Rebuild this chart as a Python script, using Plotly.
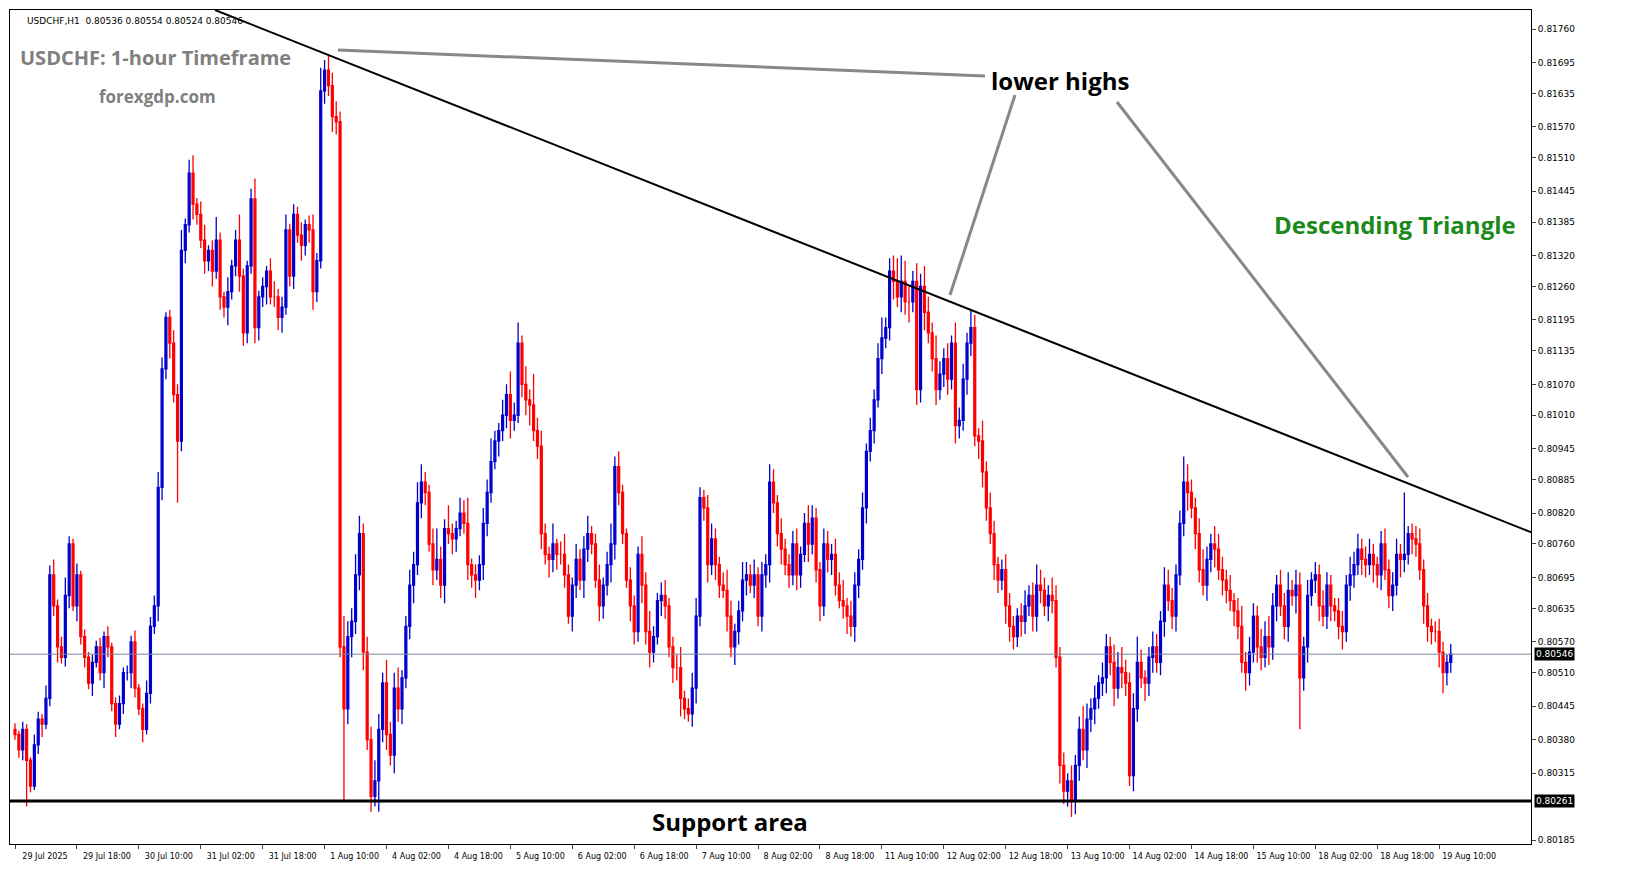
import pandas as pd
import plotly.graph_objects as go

# hourly closes, in 1e-5 CHF
closes = [
    80390, 80360, 80400, 80340, 80290, 80370, 80420, 80410, 80460, 80700, 80640, 80560, 80540, 80660, 80760, 80640, 80700, 80580, 80540, 80490,
    80530, 80560, 80510, 80580, 80560, 80450, 80410, 80450, 80510, 80510, 80570, 80480, 80440, 80400, 80470, 80600, 80640, 80870, 81100, 81200,
    81150, 81050, 80960, 81330, 81380, 81480, 81420, 81400, 81350, 81310, 81330, 81290, 81350, 81240, 81220, 81250, 81300, 81350, 81280, 81170,
    81300, 81430, 81180, 81240, 81260, 81290, 81240, 81240, 81200, 81220, 81370, 81280, 81400, 81360, 81340, 81380, 81370, 81250, 81310, 81640,
    81680, 81650, 81590, 81580, 80560, 80440, 80580, 80610, 80700, 80780, 80550, 80380, 80270, 80300, 80400, 80490, 80390, 80350, 80480, 80440,
    80500, 80600, 80680, 80720, 80840, 80880, 80860, 80760, 80710, 80730, 80680, 80790, 80780, 80770, 80790, 80820, 80800, 80720, 80700, 80690,
    80720, 80800, 80860, 80920, 80960, 80980, 81010, 81050, 81000, 81010, 81150, 81070, 81040, 81030, 80980, 80950, 80780, 80740, 80730, 80760,
    80740, 80740, 80700, 80620, 80680, 80730, 80690, 80750, 80780, 80760, 80690, 80640, 80680, 80720, 80760, 80910, 80860, 80780, 80690, 80640,
    80590, 80740, 80680, 80590, 80550, 80580, 80650, 80660, 80640, 80560, 80520, 80520, 80460, 80440, 80430, 80480, 80620, 80850, 80830, 80720,
    80770, 80720, 80680, 80670, 80620, 80560, 80590, 80630, 80690, 80700, 80680, 80700, 80620, 80700, 80720, 80880, 80840, 80780, 80750, 80720,
    80700, 80760, 80700, 80740, 80800, 80760, 80810, 80710, 80640, 80760, 80730, 80740, 80680, 80650, 80640, 80620, 80600, 80680, 80730, 80830,
    80940, 80980, 81040, 81120, 81160, 81180, 81290, 81270, 81240, 81270, 81230, 81230, 81270, 81060, 81260, 81210, 81170, 81120, 81060, 81090,
    81120, 81080, 81150, 80990, 81000, 81080, 81150, 81180, 80970, 80960, 80900, 80830, 80780, 80720, 80690, 80710, 80640, 80600, 80580, 80620,
    80610, 80640, 80660, 80620, 80680, 80670, 80640, 80660, 80650, 80540, 80330, 80280, 80300, 80260, 80330, 80400, 80360, 80420, 80440, 80460,
    80490, 80500, 80560, 80530, 80480, 80520, 80510, 80490, 80310, 80440, 80530, 80500, 80490, 80540, 80560, 80530, 80610, 80680, 80650, 80620,
    80700, 80800, 80880, 80860, 80830, 80780, 80710, 80680, 80730, 80760, 80750, 80710, 80690, 80670, 80650, 80630, 80600, 80530, 80510, 80550,
    80620, 80560, 80540, 80580, 80560, 80640, 80680, 80640, 80600, 80670, 80660, 80680, 80500, 80560, 80660, 80690, 80700, 80640, 80620, 80680,
    80640, 80630, 80600, 80590, 80680, 80700, 80720, 80750, 80730, 80720, 80740, 80720, 80700, 80760, 80710, 80660, 80680, 80740, 80730, 80740,
    80780, 80770, 80760, 80710, 80640, 80600, 80590, 80590, 80550, 80510, 80530, 80546,
]
first_open = 80400

# upper / lower wick lengths, 1e-5
wick_up = [int(v) for v in """
12 8 15 10 6 20 14 10 25 18 30 12 20 35 15 10 22 8 14 10
15 12 18 10 20 8 12 16 10 14 12 22 8 10 25 18 20 30 22 10
15 25 20 40 12 26 35 12 25 30 10 20 45 15 10 28 12 20 50 15
10 20 40 12 18 10 25 30 15 20 30 12 20 15 25 10 18 30 15 45
20 30 25 30 20 60 30 25 40 35 20 30 25 40 30 20 45 25 30 40
15 20 30 25 40 35 20 15 30 60 25 18 45 20 15 30 25 50 12 20
18 30 25 45 20 15 30 20 45 25 40 15 35 20 60 25 30 20 15 40
10 25 40 20 15 30 20 25 35 15 20 30 15 25 40 20 30 15 10 25
20 15 35 25 40 20 15 25 30 15 20 25 40 15 20 30 35 20 15 25
30 20 15 25 40 30 15 20 35 25 20 30 15 25 20 35 25 15 30 20
20 25 30 15 20 35 25 20 15 30 25 20 30 25 40 15 30 25 20 30
15 25 20 30 40 20 25 30 45 50 40 30 20 35 25 40 30 20 45 25
20 30 15 40 25 30 20 35 25 15 40 20 30 25 15 20 30 25 20 15
25 30 20 25 40 30 25 20 35 30 20 25 15 30 20 25 45 30 20 25
15 30 25 20 35 30 40 25 20 30 50 25 15 20 30 25 20 35 30 25
20 25 30 35 25 20 30 40 25 20 35 30 25 20 30 15 25 40 20 30
25 20 35 30 40 25 20 30 25 35 20 30 25 20 30 15 25 20 30 25
20 15 25 30 20 35 25 30 20 25 30 20 15 25 30 20 25 30 20 15
15 20 25 30 20 25 15 20 25 20 15 20
""".split()]
wick_dn = [int(v) for v in """
10 15 20 90 12 8 18 25 10 15 20 30 12 18 25 10 30 15 20 12
25 10 15 30 20 15 25 10 20 15 30 18 12 25 10 20 15 30 25 20
30 15 120 20 25 15 30 20 15 25 20 30 15 25 20 35 15 20 30 25
20 15 30 25 20 35 15 20 25 30 15 20 25 15 30 20 25 35 20 15
25 20 30 25 20 180 30 40 25 30 35 20 30 20 60 25 30 20 35 25
30 20 25 35 20 30 25 15 30 20 25 35 20 30 25 15 20 30 25 35
20 30 25 20 15 30 20 25 35 20 15 25 30 40 20 25 30 20 35 25
30 20 25 15 30 25 20 35 25 20 15 30 25 20 35 30 25 20 15 30
25 20 35 25 30 20 15 30 25 20 30 25 35 20 15 25 30 20 25 35
20 30 25 15 30 20 35 25 20 30 15 25 20 30 25 35 20 25 30 20
25 20 30 25 15 35 20 25 30 20 25 30 20 15 25 35 20 30 25 20
30 20 25 15 30 20 25 35 20 30 25 40 20 30 25 35 20 25 30 20
25 30 20 35 25 20 30 25 20 35 30 25 20 30 25 20 35 30 25 20
30 25 20 30 30 25 20 30 25 20 35 25 30 20 25 30 20 35 25 30
20 25 30 25 35 20 30 25 20 30 25 20 35 25 30 20 25 30 20 25
30 20 25 35 20 30 25 20 30 25 35 20 30 25 20 30 25 20 35 25
20 30 25 20 35 25 30 20 25 30 20 35 100 25 30 20 25 30 20 25
30 20 25 35 20 30 25 20 30 25 20 35 25 30 20 25 30 20 35 25
20 30 25 20 35 30 25 20 30 40 25 20
""".split()]

high_fix = {81: 81710, 130: 81190, 229: 81320, 230: 81310, 302: 80930, 359: 80860}
low_fix = {92: 80240, 94: 80240, 273: 80230, 288: 80290, 369: 80470}

y_ticks = [0.81760, 0.81695, 0.81635, 0.81570, 0.81510, 0.81445, 0.81385, 0.81320, 0.81260,
           0.81195, 0.81135, 0.81070, 0.81010, 0.80945, 0.80885, 0.80820, 0.80760, 0.80695,
           0.80635, 0.80570, 0.80510, 0.80445, 0.80380, 0.80315, 0.80185]
last_price = 0.80546
support = 0.80261

n = len(closes)
opens = [first_open] + closes[:-1]
highs, lows = [], []
for i in range(n):
    highs.append(high_fix.get(i, max(opens[i], closes[i]) + wick_up[i % len(wick_up)]))
    lows.append(low_fix.get(i, min(opens[i], closes[i]) - wick_dn[i % len(wick_dn)]))

# trading hours only (no weekends)
hours = pd.date_range("2025-07-29 02:00", periods=24 * 30, freq="h")
hours = hours[hours.dayofweek < 5][:n]
idx = list(range(n))
tick_idx = list(range(0, n, 16))
tick_txt = ["29 Jul 2025" if i == 0 else hours[i].strftime("%-d %b %H:%M") for i in tick_idx]

fig = go.Figure()
fig.add_trace(go.Candlestick(
    x=idx, open=[v / 1e5 for v in opens], high=[v / 1e5 for v in highs],
    low=[v / 1e5 for v in lows], close=[v / 1e5 for v in closes],
    increasing=dict(line=dict(color="#0000cc", width=1.3), fillcolor="#0000cc"),
    decreasing=dict(line=dict(color="#ff0000", width=1.3), fillcolor="#ff0000"),
    whiskerwidth=0, showlegend=False, hoverinfo="skip"))

px = 3.87  # pixels per bar
def bx(p):
    return (p - 5) / px

def py(p):
    return 0.81797 - p * 1.942e-5

shapes = [
    dict(type="line", x0=bx(205), y0=py(0), x1=bx(1523), y1=py(523), line=dict(color="black", width=2)),
    dict(type="line", x0=bx(328), y0=py(40), x1=bx(975), y1=py(66), line=dict(color="#888888", width=3)),
    dict(type="line", x0=bx(1005), y0=py(85), x1=bx(940), y1=py(285), line=dict(color="#888888", width=3)),
    dict(type="line", x0=bx(1107), y0=py(92), x1=bx(1398), y1=py(467), line=dict(color="#888888", width=3)),
    dict(type="line", xref="paper", x0=0, x1=1, y0=last_price, y1=last_price, line=dict(color="#778899", width=1)),
    dict(type="line", xref="paper", x0=0, x1=1, y0=support, y1=support, line=dict(color="black", width=3)),
]

ann = [
    dict(x=bx(145), y=py(47), text="<b>USDCHF: 1-hour Timeframe</b>", font=dict(size=20, color="#808080", family="Open Sans")),
    dict(x=bx(147), y=py(86), text="<b>forexgdp.com</b>", font=dict(size=17, color="#808080", family="Open Sans")),
    dict(x=bx(1050), y=py(70), text="<b>lower highs</b>", font=dict(size=24, color="black", family="Open Sans")),
    dict(x=bx(1385), y=py(214), text="<b>Descending Triangle</b>", font=dict(size=24, color="#1a8a1a", family="Open Sans")),
    dict(x=bx(720), y=py(811), text="<b>Support area</b>", font=dict(size=24, color="black", family="Open Sans")),
    dict(xref="paper", yref="paper", x=0.01, y=0.995, xanchor="left", yanchor="top",
         text="USDCHF,H1  0.80536 0.80554 0.80524 0.80546", font=dict(size=9, color="black", family="DejaVu Sans")),
    dict(xref="paper", x=1.002, y=last_price, xanchor="left", text="0.80546", bgcolor="black",
         font=dict(size=9, color="white", family="DejaVu Sans"), borderpad=1),
    dict(xref="paper", x=1.002, y=support, xanchor="left", text="0.80261", bgcolor="black",
         font=dict(size=9, color="white", family="DejaVu Sans"), borderpad=1),
]
for a in ann:
    a["showarrow"] = False

fig.update_layout(
    width=1631, height=888, margin=dict(l=2, r=108, t=2, b=52),
    plot_bgcolor="white", paper_bgcolor="white", shapes=shapes, annotations=ann,
    xaxis=dict(range=[bx(0), bx(1521)], tickvals=tick_idx, ticktext=tick_txt, showgrid=False,
               rangeslider=dict(visible=False), ticks="outside", ticklen=4, showline=True, tickangle=0,
               ticklabelshift=30,
               linecolor="black", mirror=True, tickfont=dict(size=8, family="DejaVu Sans", color="black"),
               zeroline=False),
    yaxis=dict(range=[py(834), py(0)], side="right", tickvals=y_ticks, tickformat=".5f",
               showgrid=False, ticks="outside", ticklen=4, showline=True, linecolor="black", mirror=True,
               tickfont=dict(size=9, family="DejaVu Sans", color="black"), zeroline=False),
)
fig.write_html("out.html")
